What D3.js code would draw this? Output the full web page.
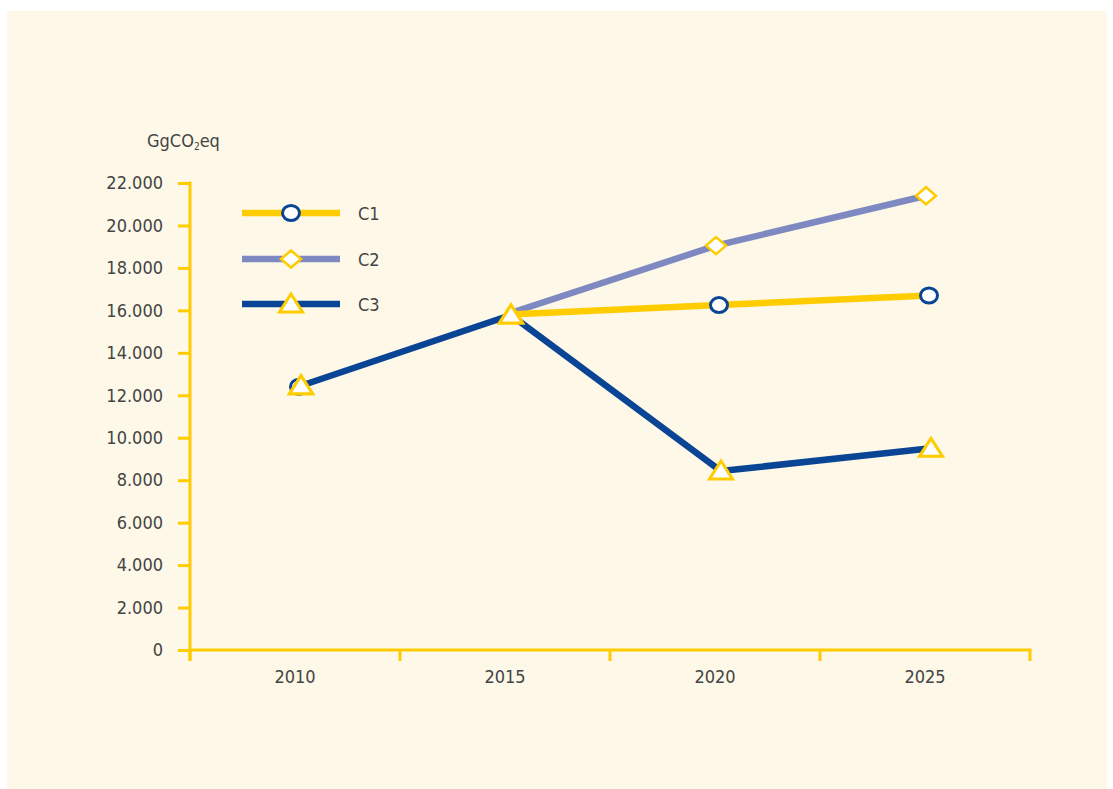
<!DOCTYPE html>
<html><head><meta charset="utf-8">
<script src="https://cdn.jsdelivr.net/npm/d3@7"></script>
<style>
html,body{margin:0;padding:0;background:#fff;}
svg text{font-family:"Liberation Sans Narrow","DejaVu Sans Condensed","Roboto",sans-serif;fill:#444;}
</style></head>
<body>
<svg id="c" width="1113" height="789"></svg>
<script>
const years = ["2010","2015","2020","2025"];
const seriesNames = ["C1","C2","C3"];
const c1 = [12400, 15800, 16250, 16700];
const c2 = [12400, 15800, 19050, 21400];
const c3 = [12450, 15780, 8430, 9500];
const yTicks = [0,2000,4000,6000,8000,10000,12000,14000,16000,18000,20000,22000];
const yTitle = "GgCO";

const svg = d3.select("#c");
svg.append("rect").attr("x",7).attr("y",11).attr("width",1100).attr("height",778).attr("fill","#FDF8E7");

const x = d3.scaleBand().domain(years).range([190,1030]);
const y = d3.scaleLinear().domain([0,22000]).range([650,183]);
const yellow = "#FFCC00", lav = "#7F89C1", blue = "#0A4595";
const fmt = v => v===0 ? "0" : d3.format(",")(v).replace(/,/g,".");

// y axis
const ya = svg.append("g").attr("transform","translate(190,0)")
  .call(d3.axisLeft(y).tickValues(yTicks).tickSize(12).tickPadding(15).tickFormat(fmt));
ya.select(".domain").remove();
ya.selectAll(".tick line").attr("stroke",yellow).attr("stroke-width",3);
ya.selectAll(".tick text").attr("font-size",18).attr("fill","#444");
svg.append("line").attr("x1",190).attr("x2",190).attr("y1",y(22000)-1.5).attr("y2",y(0)+10)
  .attr("stroke",yellow).attr("stroke-width",3);

// x axis
const xa = svg.append("g").attr("transform","translate(0,650)")
  .call(d3.axisBottom(x).tickSize(0).tickPadding(20));
xa.select(".domain").remove();
xa.selectAll(".tick text").attr("font-size",18).attr("fill","#444");
svg.append("line").attr("x1",190).attr("x2",1030+1.5).attr("y1",650).attr("y2",650)
  .attr("stroke",yellow).attr("stroke-width",3);
const bounds = years.map(d=>x(d)).concat([x.range()[1]]);
svg.selectAll(".xt").data(bounds).enter().append("line")
  .attr("x1",d=>d).attr("x2",d=>d).attr("y1",650).attr("y2",661)
  .attr("stroke",yellow).attr("stroke-width",3);

// title
const t = svg.append("text").attr("x",147).attr("y",147).attr("font-size",18);
t.append("tspan").text(yTitle);
t.append("tspan").attr("font-size",10).attr("dy",3).text("2");
t.append("tspan").attr("dy",-3).text("eq");

const series = [
  {name:"C1", vals:c1, color:yellow, marker:"circle", dx:4},
  {name:"C2", vals:c2, color:lav, marker:"diamond", dx:1},
  {name:"C3", vals:c3, color:blue, marker:"triangle", dx:6}
];
const px = (i,s) => x(years[i]) + x.bandwidth()/2 + s.dx;

function drawMarker(g, type, cx, cy){
  if(type==="circle"){
    g.append("ellipse").attr("cx",cx).attr("cy",cy).attr("rx",8.5).attr("ry",7.5)
      .attr("fill","#fff").attr("stroke",blue).attr("stroke-width",3);
  } else if(type==="diamond"){
    g.append("path").attr("d",`M${cx},${cy-8.5}L${cx+10},${cy}L${cx},${cy+8.5}L${cx-10},${cy}Z`)
      .attr("fill","#fff").attr("stroke",yellow).attr("stroke-width",2.5);
  } else {
    g.append("path").attr("d",`M${cx},${cy-10}L${cx+11.5},${cy+8}L${cx-11.5},${cy+8}Z`)
      .attr("fill","#fff").attr("stroke",yellow).attr("stroke-width",3).attr("stroke-linejoin","miter");
  }
}

const line = d3.line();
// draw order: C2, C1, C3 lines; C2 and C1 start from 2015
const lineOrder = [series[1], series[0], series[2]];
lineOrder.forEach(s=>{
  const pts = s.vals.map((v,i)=>[px(i,s), y(v)]);
  const use = s.name==="C3" ? pts : pts.slice(1);
  svg.append("path").attr("d",line(use)).attr("fill","none")
    .attr("stroke",s.color).attr("stroke-width",6.5).attr("stroke-linejoin","round");
});
// markers
const mg = svg.append("g");
series.forEach(s=>{
  s.vals.forEach((v,i)=>{
    if(s.name!=="C3" && i<2 && !(s.name==="C1" && i===0)) return;
    drawMarker(mg, s.marker, px(i,s), y(v));
  });
});
// C3 markers on top at 2010/2015
[0,1].forEach(i=>drawMarker(mg,"triangle",px(i,series[2]),y(c3[i])));

// legend
const ly = [213, 259, 304];
series.forEach((s,i)=>{
  const g = svg.append("g");
  g.append("line").attr("x1",242).attr("x2",340).attr("y1",ly[i]).attr("y2",ly[i])
    .attr("stroke",s.color).attr("stroke-width",6.5);
  drawMarker(g, s.marker, 291, ly[i]);
  g.append("text").attr("x",358).attr("y",ly[i]+7).attr("font-size",18).text(s.name);
});
</script>
</body></html>
